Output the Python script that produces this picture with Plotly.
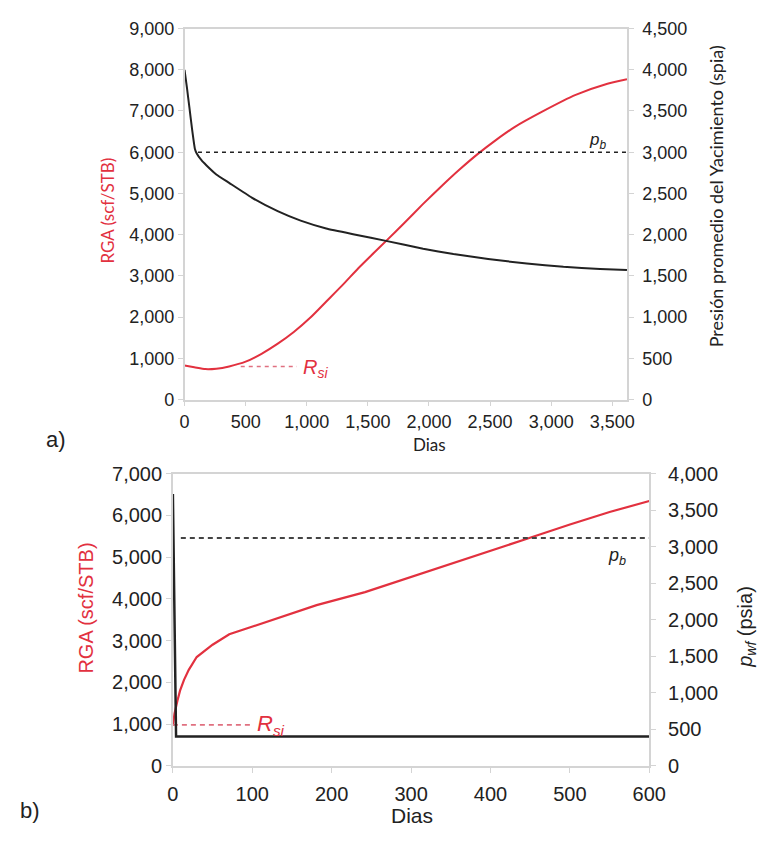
import plotly.graph_objects as go

# ---------------- data: panel a ----------------
a_days_rga = [0, 80, 170, 260, 365, 500, 630, 760, 894, 1030, 1160, 1300, 1420, 1550, 1650,
              1800, 1950, 2100, 2250, 2400, 2550, 2700, 2930, 3200, 3460, 3620]
a_rga = [825, 785, 740, 750, 805, 920, 1110, 1350, 1640, 1990, 2380, 2800, 3180, 3560, 3850,
         4290, 4740, 5170, 5580, 5960, 6300, 6610, 6990, 7390, 7660, 7770]
a_days_p = [0, 20, 40, 60, 85, 100, 140, 180, 260, 365, 550, 762, 950, 1159, 1400, 1648,
            1952, 2200, 2484, 2800, 3100, 3400, 3620]
a_pres = [4000, 3780, 3540, 3300, 3040, 2985, 2900, 2840, 2730, 2628, 2450, 2285, 2170, 2075,
          2000, 1925, 1830, 1765, 1705, 1650, 1610, 1585, 1572]
a_pb = 3000
a_pb_days = [110, 3620]
a_rsi = 800
a_rsi_days = [460, 920]

# ---------------- data: panel b ----------------
b_days_rga = [0, 2, 5.7, 9, 14, 20, 30, 50, 71, 120, 181, 242, 300, 350, 400, 446, 500, 550, 600]
b_rga = [960, 1250, 1556, 1800, 2060, 2300, 2606, 2900, 3150, 3460, 3850, 4160, 4520, 4830,
         5140, 5440, 5780, 6080, 6345]
b_days_p = [0, 4, 600]
b_pwf = [3720, 400, 400]
b_pb = 3120
b_pb_days = [10, 600]
b_rsi = 980
b_rsi_days = [0, 100]

RED = "#e2313f"
BLK = "#222222"
AX = "#d4d4d4"
TICKF = "Liberation Sans, Arial, sans-serif"
TITF = "Lato, Liberation Sans, sans-serif"

W, H = 774, 844
def px(x):
    return x / W
def py(y):
    return 1 - y / H

fig = go.Figure()

# panel a
fig.add_trace(go.Scatter(x=a_days_rga, y=a_rga, mode="lines", line=dict(color=RED, width=2, shape="spline", smoothing=0.6),
                         xaxis="x", yaxis="y", showlegend=False))
fig.add_trace(go.Scatter(x=a_days_p, y=a_pres, mode="lines", line=dict(color=BLK, width=2, shape="spline", smoothing=0.4),
                         xaxis="x", yaxis="y2", showlegend=False))
fig.add_trace(go.Scatter(x=a_pb_days, y=[a_pb, a_pb], mode="lines",
                         line=dict(color=BLK, width=1.5, dash="4px,4px"),
                         xaxis="x", yaxis="y2", showlegend=False))
fig.add_trace(go.Scatter(x=a_rsi_days, y=[a_rsi, a_rsi], mode="lines",
                         line=dict(color="#e07080", width=1.5, dash="4px,4px"),
                         xaxis="x", yaxis="y", showlegend=False))

# panel b
fig.add_trace(go.Scatter(x=b_days_rga, y=b_rga, mode="lines", line=dict(color=RED, width=2.2),
                         xaxis="x2", yaxis="y3", showlegend=False))
fig.add_trace(go.Scatter(x=b_days_p, y=b_pwf, mode="lines", line=dict(color=BLK, width=2.5),
                         xaxis="x2", yaxis="y4", showlegend=False))
fig.add_trace(go.Scatter(x=b_pb_days, y=[b_pb, b_pb], mode="lines",
                         line=dict(color="#444444", width=2, dash="5px,4px"),
                         xaxis="x2", yaxis="y4", showlegend=False))
fig.add_trace(go.Scatter(x=b_rsi_days, y=[b_rsi, b_rsi], mode="lines",
                         line=dict(color="#e07080", width=1.8, dash="5px,4px"),
                         xaxis="x2", yaxis="y3", showlegend=False))

common = dict(showgrid=False, zeroline=False, showline=True, linecolor=AX, linewidth=1.5,
              ticks="outside", ticklen=5, tickcolor=AX, separatethousands=True,
              tickformat=",d")

fig.update_layout(
    width=W, height=H, margin=dict(l=0, r=0, t=0, b=0),
    paper_bgcolor="white", plot_bgcolor="white",
    xaxis=dict(domain=[px(184), px(640)], range=[0, 3620], tickvals=[0, 500, 1000, 1500, 2000, 2500, 3000, 3500],
               anchor="y", mirror=True, tickfont=dict(family=TICKF, size=18, color="#222"), **common),
    yaxis=dict(domain=[py(399), py(18)], range=[0, 9000], dtick=1000, anchor="x",
               tickfont=dict(family=TICKF, size=18, color="#222"), **common),
    yaxis2=dict(overlaying="y", side="right", anchor="x", range=[0, 4500], dtick=500,
                ticklabelstandoff=5,
                tickfont=dict(family=TICKF, size=18, color="#222"), **common),
    xaxis2=dict(domain=[px(172), px(663)], range=[0, 600], dtick=100, anchor="y3", mirror=True,
                ticklabelstandoff=4,
                tickfont=dict(family=TICKF, size=20, color="#222"), **common),
    yaxis3=dict(domain=[py(775), py(475)], range=[0, 7000], dtick=1000, anchor="x2",
                tickfont=dict(family=TICKF, size=20, color="#222"), **common),
    yaxis4=dict(overlaying="y3", side="right", anchor="x2", range=[0, 4000], dtick=500,
                ticklabelstandoff=8,
                tickfont=dict(family=TICKF, size=20, color="#222"), **common),
)

ann = []
def A(x, y, text, size, color="#222", family=TICKF, angle=0, xanchor="center", yanchor="middle"):
    ann.append(dict(x=px(x), y=py(y), xref="paper", yref="paper", text=text, showarrow=False,
                    font=dict(family=family, size=size, color=color), textangle=angle,
                    xanchor=xanchor, yanchor=yanchor))

# panel a labels
A(105, 205, "RGA (scf/STB)", 17, RED, TITF, -90)
A(732, 190, "Presión promedio del Yacimiento (spia)", 18, "#222", TITF, -90)
A(436, 445, "Dias", 17, "#222", TITF)
A(52, 440, "a)", 22)
A(610, 133, "<i>p</i><sub><i>b</i></sub>", 17)
A(304, 367, "<i>R</i><sub><i>si</i></sub>", 20, RED, xanchor="left")

# panel b labels
A(82, 613, "RGA (scf/STB)", 20, RED, TICKF, -90)
A(763, 632, "<i>p</i><sub><i>wf</i></sub> (psia)", 20, "#222", TICKF, -90)
A(418, 826, "Dias", 21)
A(25, 821, "b)", 22)
A(630, 560, "<i>p</i><sub><i>b</i></sub>", 18)
A(257, 733, "<i>R</i><sub><i>si</i></sub>", 22, RED, xanchor="left")

fig.update_layout(annotations=ann)
fig.write_html("out.html")
